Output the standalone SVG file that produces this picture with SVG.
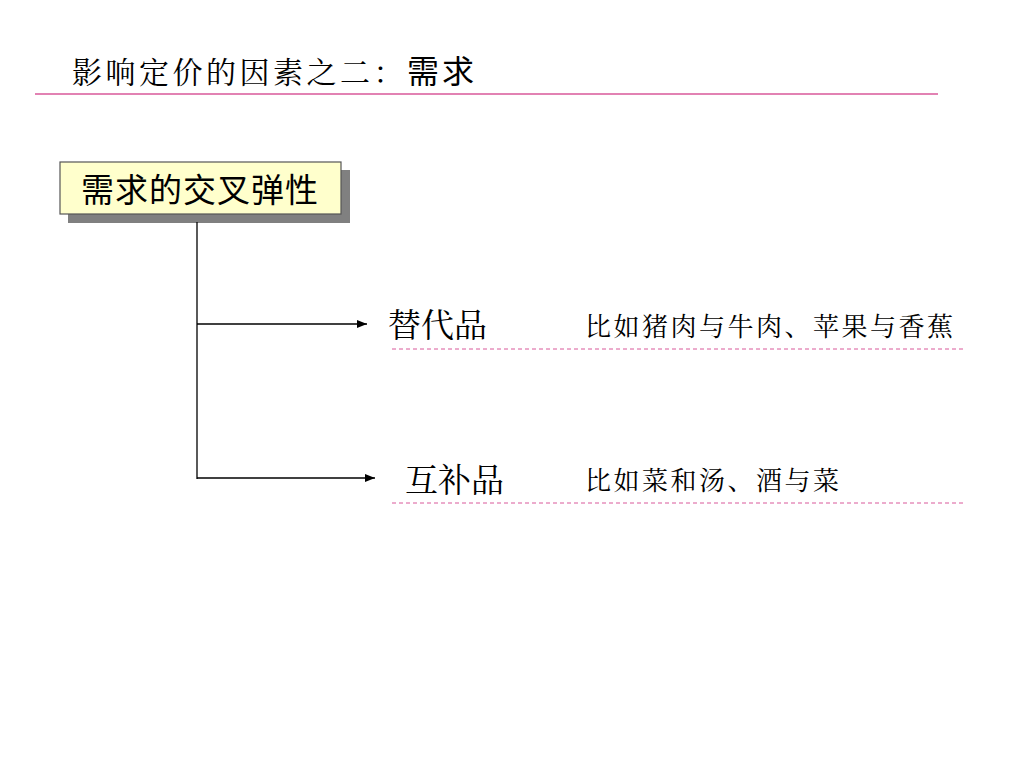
<svg xmlns="http://www.w3.org/2000/svg" width="1024" height="768" viewBox="0 0 1024 768">
<defs>
<style>
.serif{font-family:"Noto Serif CJK SC","Noto Sans CJK SC",serif;fill:#000;}
.sans{font-family:"Noto Sans CJK SC","Liberation Sans",sans-serif;fill:#000;}
.conn{stroke:#000;stroke-width:1.3;fill:none;}
.dash{stroke:#D9589A;stroke-width:1;stroke-dasharray:4 3;fill:none;}
</style>
<marker id="arr" viewBox="0 0 10 8" refX="10" refY="4" markerWidth="10" markerHeight="8" markerUnits="userSpaceOnUse" orient="auto">
<path d="M0,0 L10,4 L0,8 Z" fill="#000"/>
</marker>
</defs>
<rect width="1024" height="768" fill="#fff"/>
<g id="title">
<text x="72" y="83" class="serif" font-size="30" letter-spacing="3.5">影响定价的因素之二：<tspan class="sans" font-size="32" letter-spacing="3">需求</tspan></text>
<line x1="35" y1="94" x2="938" y2="94" stroke="#D9589A" stroke-width="1.5"/>
</g>
<g id="node-root">
<rect x="68" y="170" width="282" height="53" fill="#808080"/>
<rect x="60" y="162" width="281" height="52" fill="#FFFFCC" stroke="#555" stroke-width="1.2"/>
<text x="200" y="202" class="sans" font-size="33" letter-spacing="1" text-anchor="middle">需求的交叉弹性</text>
</g>
<g id="connectors">
<line class="conn" x1="197" y1="222" x2="197" y2="479"/>
<line class="conn" x1="197" y1="324" x2="367" y2="324" marker-end="url(#arr)"/>
<line class="conn" x1="197" y1="478" x2="375" y2="478" marker-end="url(#arr)"/>
</g>
<g id="node-substitute">
<text x="388" y="337" class="serif" font-size="33">替代品</text>
<text x="585" y="336" class="serif" font-size="26" letter-spacing="2.5">比如猪肉与牛肉、苹果与香蕉</text>
<line class="dash" x1="392" y1="349" x2="963" y2="349"/>
</g>
<g id="node-complement">
<text x="405" y="492" class="serif" font-size="33">互补品</text>
<text x="585" y="490" class="serif" font-size="26" letter-spacing="2.5">比如菜和汤、酒与菜</text>
<line class="dash" x1="392" y1="503" x2="963" y2="503"/>
</g>
</svg>
